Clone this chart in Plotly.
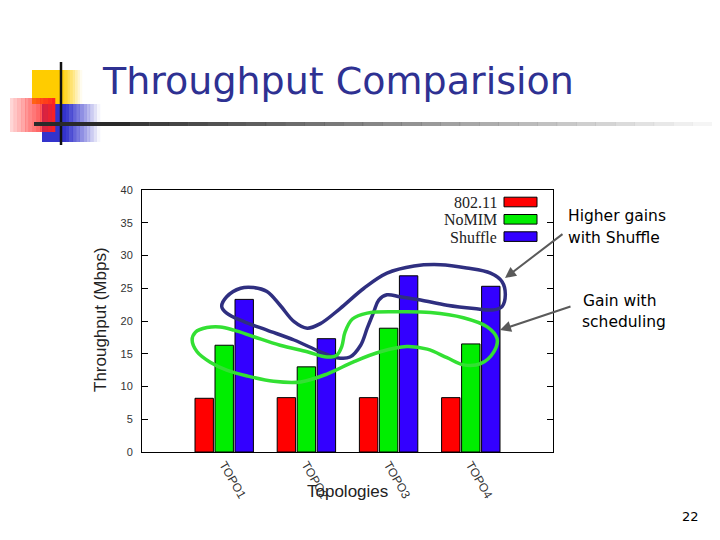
import plotly.graph_objects as go

TOPOLOGIES = ["TOPO1", "TOPO2", "TOPO3", "TOPO4"]
SERIES = ["802.11", "NoMIM", "Shuffle"]
THROUGHPUT_80211 = [8.2, 8.3, 8.3, 8.3]
THROUGHPUT_NOMIM = [16.3, 13.0, 18.9, 16.5]
THROUGHPUT_SHUFFLE = [23.3, 17.3, 26.9, 25.3]
Y_TICKS = [0, 5, 10, 15, 20, 25, 30, 35, 40]

# hand-drawn highlight loops, in axis units (x = topology index, y = Mbps)
BLUE_LOOP_X = [-0.03, 0.03, 0.20, 0.36, 0.52, 0.68, 0.85, 1.01, 1.17, 1.41, 1.70, 1.98,
               2.31, 2.63, 2.95, 3.24, 3.38, 3.42, 3.38, 3.28, 3.04, 2.71, 2.39, 2.14,
               1.98, 1.88, 1.82, 1.74, 1.66, 1.53, 1.37, 1.17, 0.85, 0.52, 0.24, 0.03, -0.03]
BLUE_LOOP_Y = [22.2, 23.7, 25.0, 25.1, 24.5, 22.4, 19.9, 18.9, 19.6, 21.9, 25.0, 27.3,
               28.4, 28.6, 28.1, 27.3, 26.0, 24.0, 22.2, 21.7, 21.9, 22.4, 23.2, 23.7,
               24.0, 23.2, 21.4, 18.9, 16.3, 14.5, 14.4, 15.3, 17.1, 18.6, 19.9, 21.2, 22.2]
GREEN_LOOP_X = [-0.39, -0.35, -0.21, -0.05, 0.12, 0.36, 0.68, 1.01, 1.25, 1.37, 1.43, 1.47,
                1.56, 1.74, 2.10, 2.51, 2.91, 3.20, 3.32, 3.28, 3.12, 2.91, 2.71, 2.47,
                2.22, 1.90, 1.58, 1.25, 0.93, 0.60, 0.28, 0.03, -0.17, -0.33, -0.39]
GREEN_LOOP_Y = [17.1, 18.3, 19.0, 19.1, 18.6, 17.6, 16.3, 15.3, 14.5, 14.8, 16.1, 18.3,
                20.3, 21.2, 21.4, 21.3, 20.5, 19.1, 17.3, 15.3, 13.5, 13.3, 14.4, 15.7,
                16.1, 15.3, 13.8, 11.9, 10.7, 10.8, 11.6, 12.5, 13.7, 15.3, 17.1]

COLORS = ["#ff0000", "#00ee00", "#3300ff"]
W, H = 720, 540
OFF = 8  # page body margin around the plot div
L, R, T, B = 142, 553, 190, 452  # plot area in page pixels


def px(x):
    return (x - L) / (R - L)


def py(y):
    return (B - y) / (B - T)


def _rect(fig, x0, y0, x1, y1, color, opacity=1.0):
    fig.add_shape(type="rect", xref="paper", yref="paper",
                  x0=px(x0), x1=px(x1), y0=py(y0), y1=py(y1),
                  fillcolor=color, opacity=opacity, line=dict(width=0), layer="above")


def _gradient(fig, x0, y0, x1, y1, color, a0, a1, steps=14):
    step = (x1 - x0) / steps
    for i in range(steps):
        a = a0 + (a1 - a0) * (i + 0.5) / steps
        _rect(fig, x0 + i * step, y0, x0 + (i + 1) * step + 0.3, y1, color, a)


def _text(fig, x, y, text, size, color="black", family="DejaVu Sans", xanchor="left", height=None):
    fig.add_annotation(xref="paper", yref="paper", x=px(x), y=py(y), text=text,
                       showarrow=False, xanchor=xanchor, yanchor="middle", height=height,
                       font=dict(family=family, size=size, color=color))


def _arrow(fig, x_head, y_head, x_tail, y_tail):
    fig.add_annotation(xref="paper", yref="paper", x=px(x_head), y=py(y_head),
                       ax=x_tail - x_head, ay=y_tail - y_head, text="",
                       showarrow=True, arrowhead=2, arrowsize=1.1, arrowwidth=2,
                       arrowcolor="#5a5a5a")


fig = go.Figure()
for name, vals, color in zip(SERIES, [THROUGHPUT_80211, THROUGHPUT_NOMIM, THROUGHPUT_SHUFFLE], COLORS):
    fig.add_trace(go.Bar(x=list(range(len(TOPOLOGIES))), y=vals, name=name,
                         marker=dict(color=color, line=dict(color="black", width=1))))

fig.add_trace(go.Scatter(x=BLUE_LOOP_X, y=BLUE_LOOP_Y, mode="lines",
                         line=dict(color="#2f2f80", width=3.5, shape="spline", smoothing=1.0),
                         hoverinfo="skip"))
fig.add_trace(go.Scatter(x=GREEN_LOOP_X, y=GREEN_LOOP_Y, mode="lines",
                         line=dict(color="#33e033", width=3.5, shape="spline", smoothing=1.0),
                         hoverinfo="skip"))

# legend drawn gnuplot style: label then swatch
for i, (name, color) in enumerate(zip(SERIES, COLORS)):
    yc = 202 + i * 17.3
    _text(fig, 499, yc, name, 16, "#222", "Liberation Serif", xanchor="right", height=14)
    _rect(fig, 504, yc - 4.8, 537, yc + 4.8, color)
    fig.add_shape(type="rect", xref="paper", yref="paper",
                  x0=px(504), x1=px(537), y0=py(yc - 4.8), y1=py(yc + 4.8),
                  line=dict(color="black", width=1), layer="above")

# slide decoration
_rect(fig, 32, 70, 62, 104, "#ffcc00")
_gradient(fig, 62, 70, 82, 104, "#ffcc00", 1.0, 0.0, 8)
_rect(fig, 42, 104, 66, 142, "#3333cc")
_gradient(fig, 66, 104, 100, 142, "#3333cc", 1.0, 0.0, 10)
_gradient(fig, 10, 98, 55, 132, "#ff2020", 0.15, 1.0, 12)
fig.add_shape(type="line", xref="paper", yref="paper", x0=px(61), x1=px(61),
              y0=py(62), y1=py(145), line=dict(color="#111", width=2.5), layer="above")
_rect(fig, 34, 122, 130, 126, "#2a2a2a")
_gradient(fig, 130, 122, 712, 126, "#2a2a2a", 0.95, 0.03, 30)

_text(fig, 100, 81, "Throughput Comparision", 38, "#2e3192")
_text(fig, 566, 216, "Higher gains", 15.5, height=20)
_text(fig, 566, 238, "with Shuffle", 15.5, height=20)
_text(fig, 581, 301, "Gain with", 15.5, height=20)
_text(fig, 580, 322, "scheduling", 15.5, height=20)
_text(fig, 690, 516, "22", 13, xanchor="center")
_arrow(fig, 505, 278, 564, 233)
_arrow(fig, 500, 330, 572, 306)

fig.add_annotation(xref="paper", yref="paper", x=px(100), y=py(320), text="Throughput (Mbps)",
                   textangle=-90, showarrow=False, xanchor="center", yanchor="middle",
                   font=dict(family="Liberation Sans", size=17, color="#222"))
fig.add_annotation(xref="paper", yref="paper", x=px(347), y=py(491), text="Topologies",
                   showarrow=False, xanchor="center", yanchor="middle",
                   font=dict(family="Liberation Sans", size=17, color="#222"))

fig.update_layout(
    width=W, height=H,
    margin=dict(l=L - OFF, r=W - (R - OFF), t=T - OFF, b=H - (B - OFF), pad=0),
    paper_bgcolor="white", plot_bgcolor="white",
    showlegend=False, barmode="group", bargap=0.27, bargroupgap=0.08,
)
fig.update_xaxes(range=[-1, 4], tickvals=list(range(len(TOPOLOGIES))), ticktext=TOPOLOGIES,
                 tickangle=60, showline=True, mirror=True, linecolor="black", linewidth=1,
                 showgrid=False, zeroline=False, ticks="",
                 tickfont=dict(family="Liberation Sans", size=12, color="#333"))
fig.update_yaxes(range=[0, 40], tickvals=Y_TICKS, showline=True, mirror="ticks",
                 linecolor="black", linewidth=1, showgrid=False, zeroline=False,
                 ticks="inside", ticklen=6, tickcolor="black", ticklabelstandoff=6,
                 tickfont=dict(family="Liberation Sans", size=11, color="#333"))

fig.write_html("out.html")
